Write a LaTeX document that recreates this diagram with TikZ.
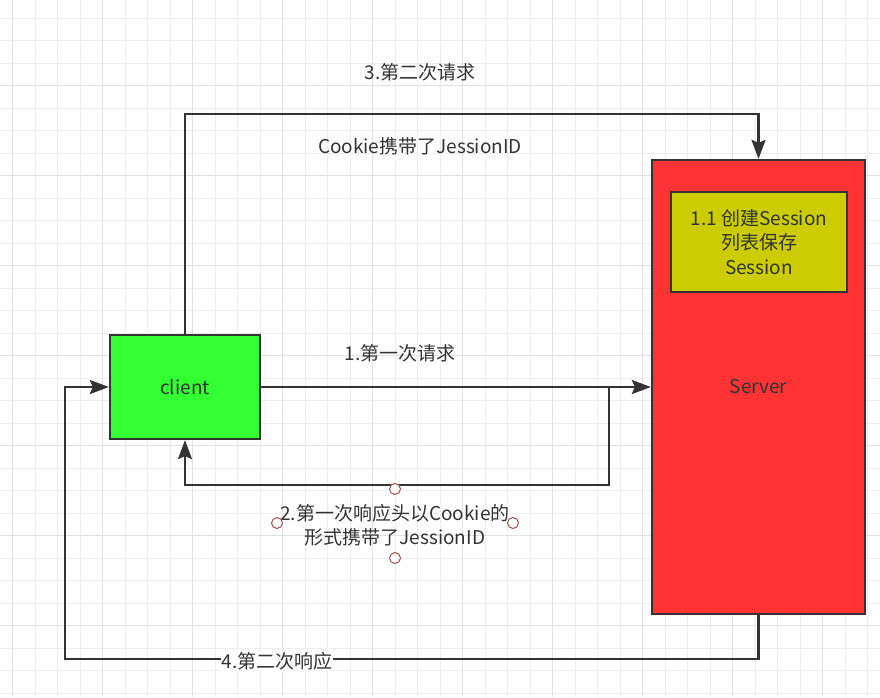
\documentclass[tikz,border=0pt]{standalone}
\usepackage{fontspec}
\setmainfont{Noto Sans CJK SC}
\usepackage{xcolor}
\usetikzlibrary{arrows.meta,positioning}

\definecolor{ink}{HTML}{333333}
\definecolor{clientgreen}{HTML}{33FF33}
\definecolor{serverred}{HTML}{FF3333}
\definecolor{sessyellow}{HTML}{CCCC00}
\definecolor{gridminor}{HTML}{EEEEEE}
\definecolor{gridmajor}{HTML}{E2E2E2}
\definecolor{handlered}{HTML}{A05050}

\tikzset{
  box/.style={draw=ink,line width=2.3pt,text=ink,inner sep=0pt,align=center},
  link/.style={draw=ink,line width=2.3pt,-{Stealth[length=19pt,width=14pt,inset=3pt]}},
  lbl/.style={text=ink,inner sep=1pt,align=center},
  handle/.style={circle,draw=handlered,fill=white,line width=1pt,minimum size=11pt,inner sep=0pt}
}

\begin{document}
\begin{tikzpicture}[x=1pt,y=-1pt,font=\fontsize{19}{24.5}\selectfont]
\useasboundingbox (0,0) rectangle (880,697);
% grid
\foreach \gx in {12.7,35.2,...,880} \draw[gridminor,line width=1.2pt] (\gx,0) -- (\gx,697);
\foreach \gy in {18.2,40.7,...,697} \draw[gridminor,line width=1.2pt] (0,\gy) -- (880,\gy);
\foreach \gx in {12.7,102.7,...,880} \draw[gridmajor,line width=1.2pt] (\gx,0) -- (\gx,697);
\foreach \gy in {-4.3,85.7,...,697} \draw[gridmajor,line width=1.2pt] (0,\gy) -- (880,\gy);

% boxes
\node[box,fill=clientgreen,minimum width=150pt,minimum height=104pt] (client) at (185,387) {client};
\node[box,fill=serverred,minimum width=213pt,minimum height=454pt] (server) at (758.5,387) {Server};
\node[box,fill=sessyellow,minimum width=176pt,minimum height=100pt] (sess) at (759,242) {1.1 创建Session\\列表保存\\Session};

% connectors
\coordinate (split) at (609,387);
\coordinate (back) at (65,659);
\draw[link] (client.east) -- (server.west);
\draw[link] (split) -- ++(0,98) -| (client.south);
\draw[link] (client.north) -- ++(0,-220) -| (server.north);
\draw[link] (server.south) |- (back) |- (client.west);

% labels
\node[lbl] (first) at (400,353) {1.第一次请求};
\node[lbl] (second) at (420,72) {3.第二次请求};
\node[lbl] (cookie) at (420,146) {Cookie携带了JessionID};
\node[lbl] (reply) at (395,525) {2.第一次响应头以Cookie的\\形式携带了JessionID};
\node[lbl,fill=white] (again) at (277,661) {4.第二次响应};

% selection handles
\node[handle] (ht) at (395,489) {};
\node[handle] (hl) at (277,523) {};
\node[handle] (hr) at (513,523) {};
\node[handle] (hb) at (395,558) {};
\end{tikzpicture}
\end{document}
